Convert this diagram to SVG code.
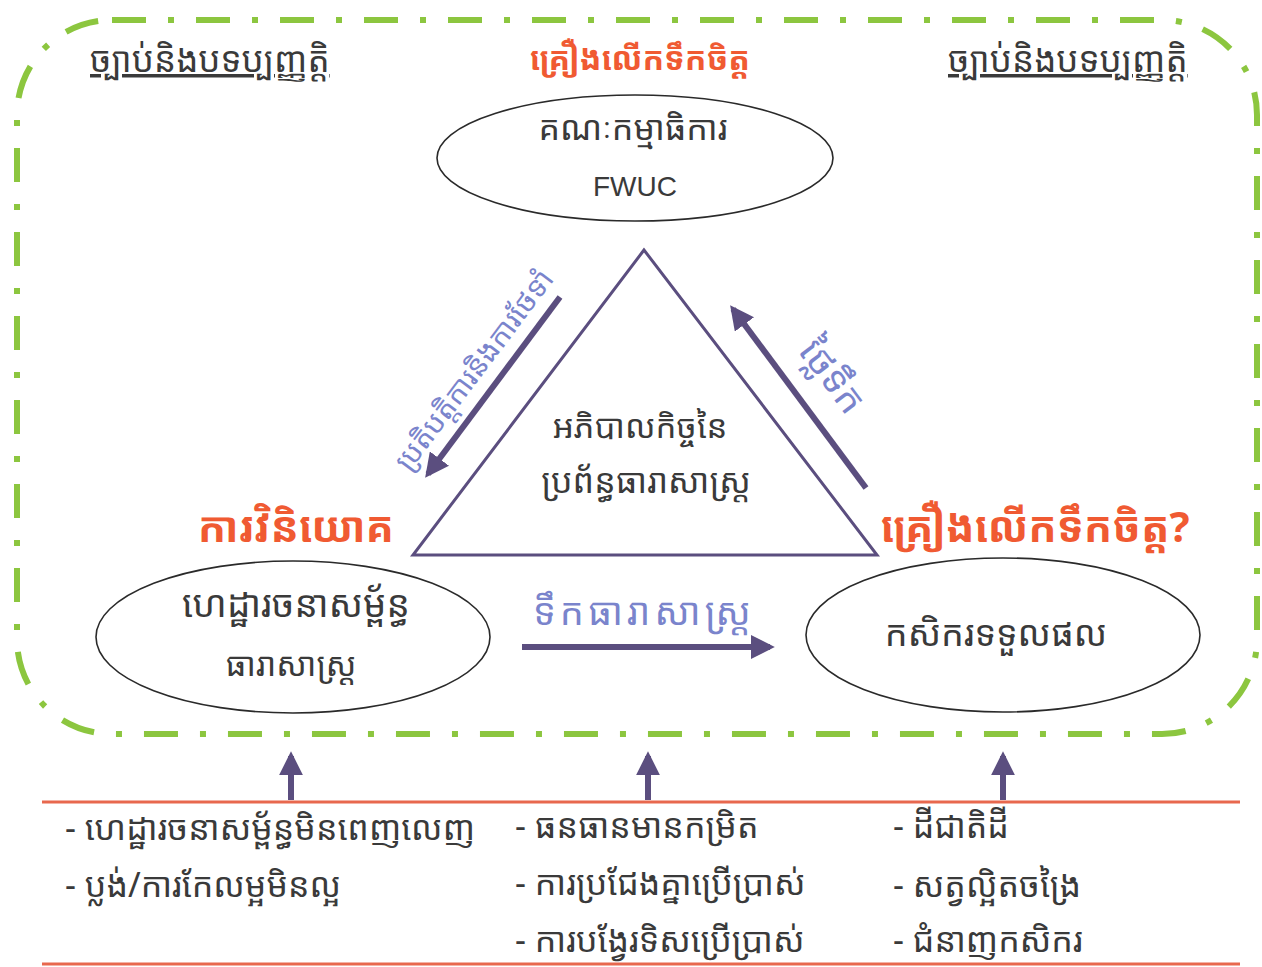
<svg xmlns="http://www.w3.org/2000/svg" width="1262" height="967" viewBox="0 0 1262 967">
<defs>
<style>
.km{font-family:"Noto Sans Khmer","Khmer OS","Noto Sans","DejaVu Sans",sans-serif;}
.dark{fill:#3a3a3a;}
.red{fill:#f05a32;font-weight:bold;}
.blue{fill:#7a84cc;}
.ell{fill:none;stroke:#2a2a2a;stroke-width:1.6;}
.arr{stroke:#5b4e7f;stroke-width:6;fill:none;}
.orange{stroke:#e8684e;stroke-width:3;}
.bot{font-size:34px;}
</style>
<marker id="ah" viewBox="0 0 10 10" refX="8" refY="5" markerWidth="4" markerHeight="4" orient="auto" markerUnits="strokeWidth">
<path d="M0,0 L10,5 L0,10 z" fill="#5b4e7f"/>
</marker>
</defs>
<rect width="1262" height="967" fill="#ffffff"/>

<g id="frame">
<rect x="17" y="20" width="1240" height="714" rx="95" ry="95" fill="none" stroke="#8cc63f" stroke-width="6" stroke-dasharray="34 22 6 22"/>
</g>

<g id="laws-left">
<text class="km dark" x="90" y="72" font-size="35" text-decoration="underline">ច្បាប់និងបទប្បញ្ញត្តិ</text>
</g>
<g id="laws-right">
<text class="km dark" x="948" y="72" font-size="35" text-decoration="underline">ច្បាប់និងបទប្បញ្ញត្តិ</text>
</g>
<g id="incentive-top">
<text class="km red" x="640" y="70" font-size="32" text-anchor="middle">គ្រឿងលើកទឹកចិត្ត</text>
</g>

<g id="fwuc">
<ellipse class="ell" cx="635" cy="158" rx="198" ry="63"/>
<text class="km dark" x="633" y="140" font-size="34" text-anchor="middle">គណៈកម្មាធិការ</text>
<text x="635" y="196" font-size="28" text-anchor="middle" font-family="Liberation Sans, Arial, sans-serif" fill="#3a3a3a">FWUC</text>
</g>

<g id="governance">
<polygon points="644,250 413,555 877,555" fill="none" stroke="#5b4e7f" stroke-width="3"/>
<text class="km dark" x="640" y="438" font-size="33" text-anchor="middle">អភិបាលកិច្ចនៃ</text>
<text class="km dark" x="646" y="493" font-size="34" text-anchor="middle">ប្រព័ន្ធធារាសាស្ត្រ</text>
</g>

<g id="investment">
<text class="km red" x="296" y="542" font-size="42" text-anchor="middle">ការវិនិយោគ</text>
</g>
<g id="incentive-right">
<text class="km red" x="1035" y="542" font-size="42" text-anchor="middle">គ្រឿងលើកទឹកចិត្ត?</text>
</g>

<g id="infrastructure">
<ellipse class="ell" cx="293" cy="637" rx="197" ry="76"/>
<text class="km dark" x="296" y="617" font-size="37" text-anchor="middle">ហេដ្ឋារចនាសម្ព័ន្ធ</text>
<text class="km dark" x="291" y="676" font-size="33" text-anchor="middle">ធារាសាស្ត្រ</text>
</g>

<g id="farmers">
<ellipse class="ell" cx="1003" cy="635" rx="197" ry="77"/>
<text class="km dark" x="996" y="646" font-size="36" text-anchor="middle">កសិករទទួលផល</text>
</g>

<g id="connectors">
<line class="arr" x1="560" y1="297" x2="428" y2="474" marker-end="url(#ah)"/>
<line class="arr" x1="866" y1="488" x2="733" y2="309" marker-end="url(#ah)"/>
<line class="arr" x1="522" y1="647" x2="770" y2="647" marker-end="url(#ah)"/>
<line class="arr" x1="291" y1="800" x2="291" y2="756" marker-end="url(#ah)"/>
<line class="arr" x1="648" y1="800" x2="648" y2="756" marker-end="url(#ah)"/>
<line class="arr" x1="1003" y1="800" x2="1003" y2="756" marker-end="url(#ah)"/>
<text class="km blue" font-size="29" text-anchor="middle" transform="translate(482,376) rotate(-53)">ប្រតិបត្តិការនិងការថែទាំ</text>
<text class="km blue" font-size="38" text-anchor="middle" transform="translate(822,384) rotate(53)">ថ្លៃទឹក</text>
<text class="km blue" x="644" y="625" font-size="38" letter-spacing="4" text-anchor="middle">ទឹកធារាសាស្ត្រ</text>
</g>

<g id="constraints">
<line class="orange" x1="42" y1="802" x2="1240" y2="802"/>
<line class="orange" x1="42" y1="964" x2="1240" y2="964"/>
<text class="km dark bot" x="65" y="840">- ហេដ្ឋារចនាសម្ព័ន្ធមិនពេញលេញ</text>
<text class="km dark bot" x="65" y="897">- ប្លង់/ការកែលម្អមិនល្អ</text>
<text class="km dark bot" x="515" y="838">- ធនធានមានកម្រិត</text>
<text class="km dark bot" x="515" y="895">- ការប្រជែងគ្នាប្រើប្រាស់</text>
<text class="km dark bot" x="515" y="952">- ការបង្វែរទិសប្រើប្រាស់</text>
<text class="km dark bot" x="893" y="838">- ដីជាតិដី</text>
<text class="km dark bot" x="893" y="897">- សត្វល្អិតចង្រៃ</text>
<text class="km dark bot" x="893" y="952">- ជំនាញកសិករ</text>
</g>
</svg>
